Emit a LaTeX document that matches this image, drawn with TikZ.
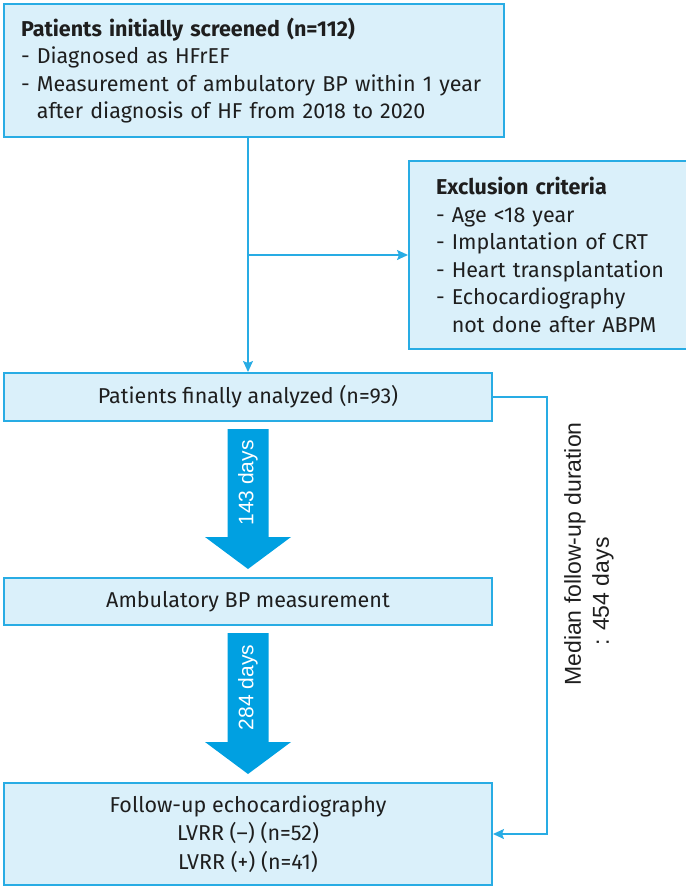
\documentclass[tikz,border=0pt]{standalone}
\usepackage{fontspec}
\setmainfont{Fira Sans}
\newfontfamily\arrowfont{Liberation Sans}
\usetikzlibrary{arrows.meta, calc}
\definecolor{boxfill}{RGB}{218,240,250}
\definecolor{boxline}{RGB}{40,172,228}
\definecolor{fatblue}{RGB}{0,160,225}
\definecolor{ink}{RGB}{30,30,30}
\tikzset{box/.style={draw=boxline, fill=boxfill, line width=2pt, text=ink,
           font=\fontsize{21.5}{27.5}\selectfont, inner sep=0pt},
         conn/.style={draw=boxline, line width=1.5pt,
           -{Stealth[length=11pt, width=10pt, inset=2pt]}},
         fatarrow/.style={fill=fatblue},
         daylabel/.style={text=white, font=\arrowfont\fontsize{21}{25}\selectfont}}

\begin{document}
\begin{tikzpicture}[x=1pt, y=-1pt]
    \useasboundingbox (0,0) rectangle (686,887);
    % boxes of the flow
    \node[box, anchor=north west, minimum width=488pt, minimum height=133pt,
      text width=466pt, align=left, inner xsep=17pt] (scr) at (3,3)
      {\textbf{Patients initially screened (n=112)}\\
       - Diagnosed as HFrEF\\
       - Measurement of ambulatory BP within 1 year\\
       \phantom{-\ }after diagnosis of HF from 2018 to 2020};
    \node[box, anchor=north west, minimum width=275pt, minimum height=188pt,
      text width=245pt, align=left, inner xsep=27pt] (exc) at (408,160)
      {\textbf{Exclusion criteria}\\
       - Age <18 year\\
       - Implantation of CRT\\
       - Heart transplantation\\
       - Echocardiography\\
       \phantom{-\ }not done after ABPM};
    \node[box, anchor=north west, minimum width=488pt, minimum height=48pt] (ana)
      at (3,372) {Patients finally analyzed (n=93)};
    \node[box, anchor=north west, minimum width=488pt, minimum height=47pt] (amb)
      at (3,577) {Ambulatory BP measurement};
    \node[box, anchor=north west, minimum width=488pt, minimum height=102pt,
      align=center, font=\fontsize{21.5}{28.5}\selectfont] (fu) at (3,782)
      {Follow-up echocardiography\\ LVRR (--) (n=52)\\ LVRR (+) (n=41)};

    % thin connectors
    \draw[conn] (ana.north |- scr.south) -- (ana.north);
    \draw[conn] (ana.north |- exc.west) -- (exc.west);
    \draw[conn] (ana.east) -- ++(54,0) |- (fu.east);
    \node[daylabel, text=ink, rotate=90, align=left,
      font=\arrowfont\fontsize{23}{28}\selectfont] (dur) at (589,554)
      {Median follow-up duration\\\hspace*{40pt}: 454 days};

    % fat arrows between the steps
    \foreach \from/\to/\days in {ana/amb/143, amb/fu/284} {
      \coordinate (top) at ($(\from.south)+(0,7)$);
      \coordinate (tip) at ($(\to.north)+(0,-8)$);
      \fill[fatarrow] ($(top)+(-20.5,0)$) -- ($(top)+(20.5,0)$)
        -- ($(tip)+(20.5,-32)$) -- ($(tip)+(43,-32)$) -- (tip)
        -- ($(tip)+(-43,-32)$) -- ($(tip)+(-20.5,-32)$) -- cycle;
      \node[daylabel, rotate=90] (d\days) at ($(top)!0.5!(tip)+(0,-16)$) {\days\ days};
    }
\end{tikzpicture}
\end{document}
